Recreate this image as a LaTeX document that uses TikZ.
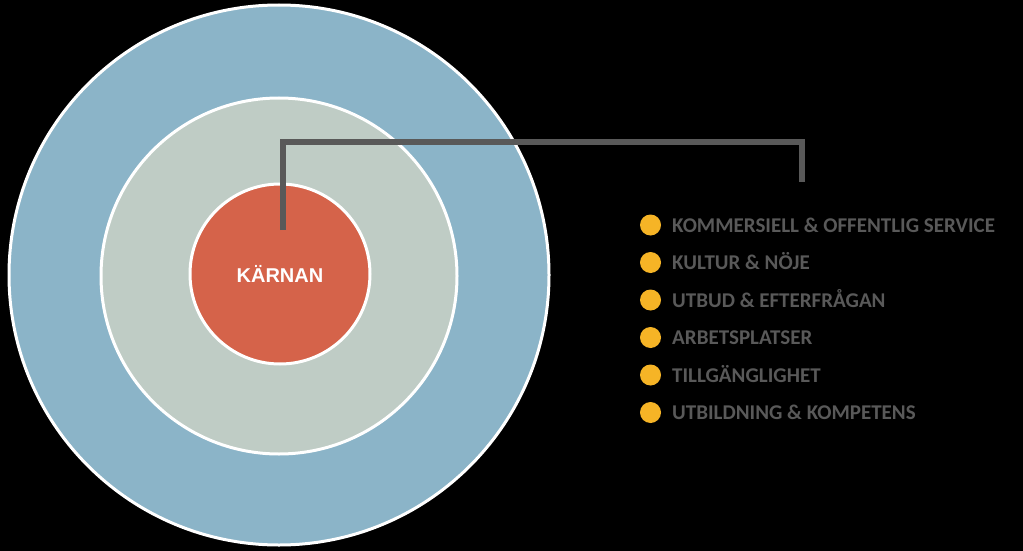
\documentclass[tikz,border=0pt]{standalone}
\usepackage{fontspec}
\setmainfont{Carlito}
\newfontfamily\arialfont{Liberation Sans}
\usetikzlibrary{calc}
\definecolor{ringblue}{RGB}{139,180,200}
\definecolor{ringgreen}{RGB}{191,204,197}
\definecolor{corered}{RGB}{213,99,74}
\definecolor{linegray}{RGB}{89,89,89}
\definecolor{dotyellow}{RGB}{246,180,38}
\tikzset{ring/.style={circle,draw=white,line width=3pt,inner sep=0pt},
  dot/.style={circle,fill=dotyellow,inner sep=0pt,minimum size=21pt},
  item/.style={anchor=base west,text=linegray,font=\bfseries\fontsize{21}{24}\selectfont,inner sep=0pt}}

\begin{document}
\begin{tikzpicture}[x=1pt,y=-1pt]
  \def\cx{279}
  \def\cy{275}
  \fill[black] (0,0) rectangle (1023,551);

  % rings
  \node[ring,fill=ringblue,minimum size=540pt] (outer) at (\cx,\cy) {};
  \node[ring,fill=ringgreen,minimum size=356pt] (middle) at (\cx,\cy+1) {};
  \node[ring,fill=corered,minimum size=180pt,font=\arialfont\bfseries\fontsize{20}{24}\selectfont,text=white] (core) at (\cx+1,\cy-1) {K\"ARNAN};

  % connector
  \coordinate (start) at (283,230);
  \coordinate (stop) at (802,182);
  \draw[linegray,line width=6pt] (start) |- ($(stop)+(0,-40)$) -- (stop);

  % list
  \foreach \t [count=\i] in {KOMMERSIELL \& OFFENTLIG SERVICE,KULTUR \& N\"OJE,UTBUD \& EFTERFR\AA GAN,ARBETSPLATSER,TILLG\"ANGLIGHET,UTBILDNING \& KOMPETENS}{
    \node[dot] (d\i) at (650.5,187.5+37.5*\i) {};
    \node[item] (t\i) at (672,194.5+37.5*\i) {\t};
  }
\end{tikzpicture}
\end{document}
